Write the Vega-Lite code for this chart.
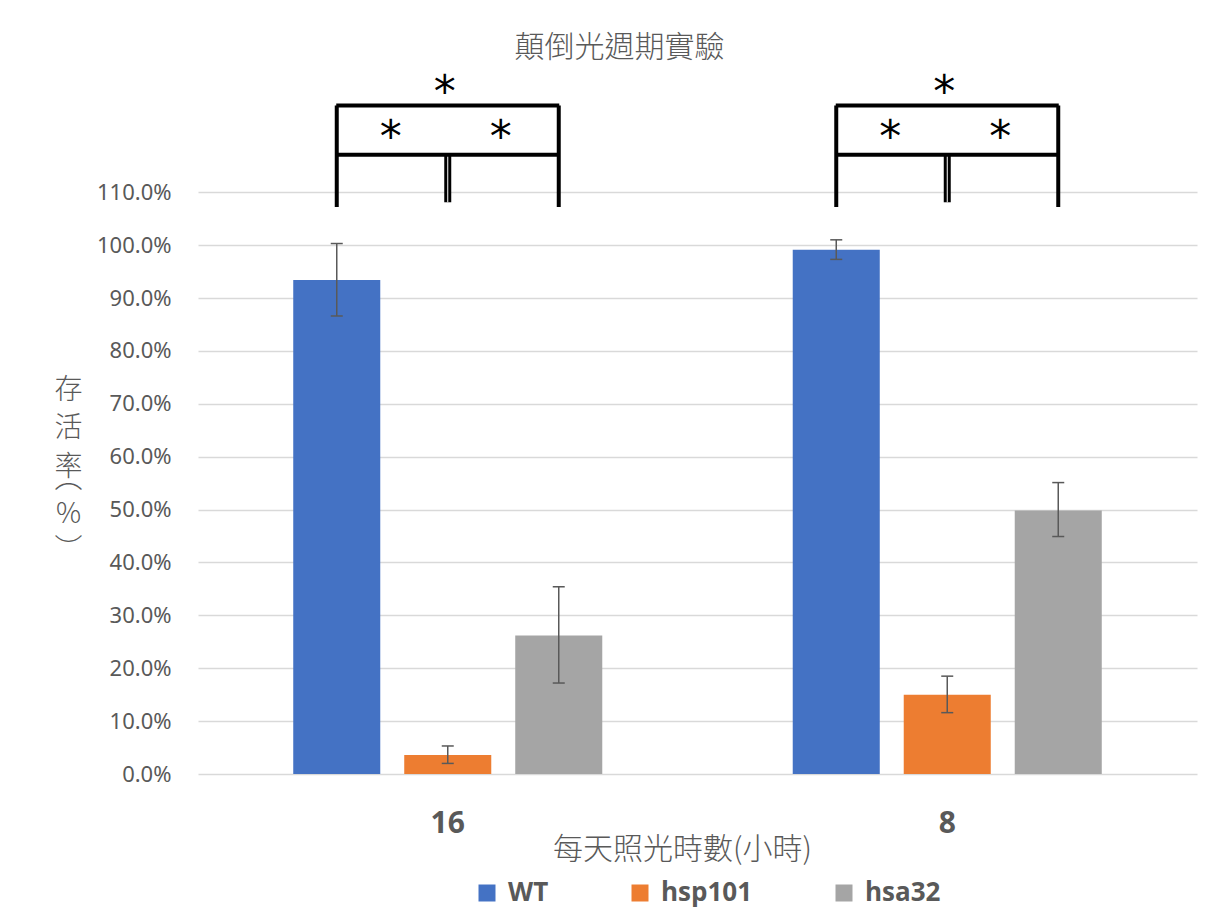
{
  "$schema": "https://vega.github.io/schema/vega-lite/v6.json",
  "width": 999,
  "height": 714,
  "autosize": {"type": "none"},
  "padding": {"left": 198, "top": 60, "right": 32, "bottom": 142},
  "background": "white",
  "config": {"view": {"stroke": null}},
  "title": {
    "text": "顛倒光週期實驗",
    "font": "Noto Sans CJK TC",
    "fontSize": 30,
    "fontWeight": 300,
    "color": "#595959",
    "anchor": "middle",
    "frame": "group",
    "dx": -78,
    "offset": -3
  },
  "datasets": {
    "main": [
      {"hours": "16", "genotype": "WT", "value": 0.934, "lo": 0.866, "hi": 1.003},
      {"hours": "16", "genotype": "hsp101", "value": 0.036, "lo": 0.020, "hi": 0.053},
      {"hours": "16", "genotype": "hsa32", "value": 0.262, "lo": 0.172, "hi": 0.354},
      {"hours": "8", "genotype": "WT", "value": 0.991, "lo": 0.973, "hi": 1.010},
      {"hours": "8", "genotype": "hsp101", "value": 0.150, "lo": 0.116, "hi": 0.185},
      {"hours": "8", "genotype": "hsa32", "value": 0.498, "lo": 0.449, "hi": 0.551}
    ],
    "verticals": [
      {"hours": "16", "genotype": "WT", "top": 1.264, "bottom": 1.072, "kind": "outer"},
      {"hours": "16", "genotype": "hsa32", "top": 1.264, "bottom": 1.072, "kind": "outer"},
      {"hours": "16", "genotype": "hsp101", "top": 1.171, "bottom": 1.081, "kind": "inner"},
      {"hours": "8", "genotype": "WT", "top": 1.264, "bottom": 1.072, "kind": "outer"},
      {"hours": "8", "genotype": "hsa32", "top": 1.264, "bottom": 1.072, "kind": "outer"},
      {"hours": "8", "genotype": "hsp101", "top": 1.171, "bottom": 1.081, "kind": "inner"}
    ],
    "horizontals": [
      {"hours": "16", "level": 1.264},
      {"hours": "16", "level": 1.171},
      {"hours": "8", "level": 1.264},
      {"hours": "8", "level": 1.171}
    ],
    "stars": [
      {"hours": "16", "pos": "top", "level": 1.305, "label": "*"},
      {"hours": "16", "pos": "left", "level": 1.222, "label": "*"},
      {"hours": "16", "pos": "right", "level": 1.222, "label": "*"},
      {"hours": "8", "pos": "top", "level": 1.305, "label": "*"},
      {"hours": "8", "pos": "left", "level": 1.222, "label": "*"},
      {"hours": "8", "pos": "right", "level": 1.222, "label": "*"}
    ]
  },
  "layer": [
    {
      "layer": [
        {
          "data": {"name": "main"},
          "mark": {"type": "bar"},
          "encoding": {
            "x": {
              "field": "hours",
              "type": "nominal",
              "sort": ["16", "8"],
              "scale": {"paddingInner": 0, "paddingOuter": 0},
              "axis": {
                "title": "每天照光時數(小時)",
                "titleFont": "Noto Sans CJK TC",
                "titleFontSize": 30,
                "titleFontWeight": 300,
                "titleColor": "#595959",
                "titleX": 484,
                "titleY": 75,
                "titleAlign": "center",
                "titleBaseline": "middle",
                "labelFont": "Open Sans",
                "labelFontSize": 30,
                "labelFontWeight": "bold",
                "labelColor": "#595959",
                "labelAngle": 0,
                "labelBaseline": "middle",
                "labelPadding": 49,
                "ticks": false,
                "tickSize": 0,
                "domain": false,
                "grid": false
              }
            },
            "xOffset": {
              "field": "genotype",
              "type": "nominal",
              "sort": ["WT", "hsp101", "hsa32"],
              "scale": {"paddingInner": 0.216, "paddingOuter": 0.858}
            },
            "y": {
              "field": "value",
              "type": "quantitative",
              "scale": {"domain": [0, 1.35], "nice": false, "zero": true},
              "axis": {
                "values": [0, 0.1, 0.2, 0.3, 0.4, 0.5, 0.6, 0.7, 0.8, 0.9, 1.0, 1.1],
                "format": ".1%",
                "labelFont": "Noto Sans",
                "labelFontSize": 22,
                "labelColor": "#595959",
                "labelPadding": 27,
                "ticks": false,
                "domain": false,
                "grid": true,
                "gridColor": "#d9d9d9",
                "gridWidth": 1.5,
                "title": ["存", "活", "率"],
                "titleFont": "Noto Sans CJK TC",
                "titleFontSize": 28,
                "titleFontWeight": 300,
                "titleColor": "#595959",
                "titleAngle": 0,
                "titleX": -130,
                "titleY": 330,
                "titleAlign": "center",
                "titleBaseline": "middle",
                "titleLineHeight": 38.5
              }
            },
            "color": {
              "field": "genotype",
              "type": "nominal",
              "sort": ["WT", "hsp101", "hsa32"],
              "scale": {"domain": ["WT", "hsp101", "hsa32"], "range": ["#4472C4", "#ED7D31", "#A5A5A5"]},
              "legend": {
                "title": null,
                "orient": "none",
                "direction": "horizontal",
                "legendX": 276,
                "legendY": 820,
                "symbolType": "square",
                "symbolSize": 289,
                "symbolStrokeWidth": 0,
                "symbolOpacity": 1,
                "labelFont": "Open Sans",
                "labelFontSize": 26,
                "labelFontWeight": "bold",
                "labelColor": "#595959",
                "labelOffset": 8,
                "columnPadding": 78
              }
            }
          }
        },
        {
          "data": {"name": "main"},
          "mark": {"type": "rule", "color": "#595959", "strokeWidth": 1.5},
          "encoding": {
            "x": {"field": "hours", "type": "nominal", "sort": ["16", "8"]},
            "xOffset": {"field": "genotype", "type": "nominal", "sort": ["WT", "hsp101", "hsa32"]},
            "y": {"field": "lo", "type": "quantitative"},
            "y2": {"field": "hi"}
          }
        },
        {
          "data": {"name": "main"},
          "mark": {"type": "tick", "color": "#595959", "size": 12, "thickness": 1.5, "opacity": 1},
          "encoding": {
            "x": {"field": "hours", "type": "nominal", "sort": ["16", "8"]},
            "xOffset": {"field": "genotype", "type": "nominal", "sort": ["WT", "hsp101", "hsa32"]},
            "y": {"field": "lo", "type": "quantitative"}
          }
        },
        {
          "data": {"name": "verticals"},
          "transform": [{"filter": "datum.kind === 'outer'"}],
          "mark": {"type": "rule", "color": "black", "strokeWidth": 4},
          "encoding": {
            "x": {"field": "hours", "type": "nominal", "sort": ["16", "8"]},
            "xOffset": {"field": "genotype", "type": "nominal", "sort": ["WT", "hsp101", "hsa32"]},
            "y": {"field": "top", "type": "quantitative"},
            "y2": {"field": "bottom"}
          }
        },
        {
          "data": {"name": "verticals"},
          "transform": [{"filter": "datum.kind === 'inner'"}],
          "mark": {"type": "rule", "color": "black", "strokeWidth": 7},
          "encoding": {
            "x": {"field": "hours", "type": "nominal", "sort": ["16", "8"]},
            "xOffset": {"field": "genotype", "type": "nominal", "sort": ["WT", "hsp101", "hsa32"]},
            "y": {"field": "top", "type": "quantitative"},
            "y2": {"field": "bottom"}
          }
        },
        {
          "data": {"name": "verticals"},
          "transform": [{"filter": "datum.kind === 'inner'"}],
          "mark": {"type": "rule", "color": "white", "strokeWidth": 1},
          "encoding": {
            "x": {"field": "hours", "type": "nominal", "sort": ["16", "8"]},
            "xOffset": {"field": "genotype", "type": "nominal", "sort": ["WT", "hsp101", "hsa32"]},
            "y": {"field": "top", "type": "quantitative"},
            "y2": {"field": "bottom"}
          }
        },
        {
          "data": {"name": "horizontals"},
          "mark": {"type": "tick", "color": "black", "size": 223, "thickness": 4, "opacity": 1},
          "encoding": {
            "x": {"field": "hours", "type": "nominal", "sort": ["16", "8"]},
            "y": {"field": "level", "type": "quantitative"}
          }
        },
        {
          "data": {"name": "stars"},
          "transform": [{"filter": "datum.pos === 'top'"}],
          "mark": {"type": "text", "font": "DejaVu Sans", "fontSize": 44, "color": "black", "baseline": "middle", "align": "center", "dx": -3, "dy": 10},
          "encoding": {
            "x": {"field": "hours", "type": "nominal", "sort": ["16", "8"]},
            "y": {"field": "level", "type": "quantitative"},
            "text": {"field": "label"}
          }
        },
        {
          "data": {"name": "stars"},
          "transform": [{"filter": "datum.pos === 'left'"}],
          "mark": {"type": "text", "font": "DejaVu Sans", "fontSize": 44, "color": "black", "baseline": "middle", "align": "center", "dx": -57, "dy": 11},
          "encoding": {
            "x": {"field": "hours", "type": "nominal", "sort": ["16", "8"]},
            "y": {"field": "level", "type": "quantitative"},
            "text": {"field": "label"}
          }
        },
        {
          "data": {"name": "stars"},
          "transform": [{"filter": "datum.pos === 'right'"}],
          "mark": {"type": "text", "font": "DejaVu Sans", "fontSize": 44, "color": "black", "baseline": "middle", "align": "center", "dx": 53, "dy": 11},
          "encoding": {
            "x": {"field": "hours", "type": "nominal", "sort": ["16", "8"]},
            "y": {"field": "level", "type": "quantitative"},
            "text": {"field": "label"}
          }
        }
      ]
    },
    {
      "data": {"name": "main"},
      "mark": {"type": "tick", "color": "#595959", "size": 12, "thickness": 1.5, "opacity": 1},
      "encoding": {
        "x": {"field": "hours", "type": "nominal", "sort": ["16", "8"]},
        "xOffset": {"field": "genotype", "type": "nominal", "sort": ["WT", "hsp101", "hsa32"]},
        "y": {
          "field": "hi",
          "type": "quantitative",
          "axis": {
            "orient": "left",
            "labels": false,
            "ticks": false,
            "domain": false,
            "grid": false,
            "title": ["︵", "%", "︶"],
            "titleFont": "Noto Sans CJK TC",
            "titleFontSize": 28,
            "titleFontWeight": 300,
            "titleColor": "#595959",
            "titleAngle": 0,
            "titleX": -130,
            "titleY": 419,
            "titleAlign": "center",
            "titleBaseline": "middle",
            "titleLineHeight": 35.5
          }
        }
      }
    }
  ],
  "resolve": {"axis": {"y": "independent"}}
}
